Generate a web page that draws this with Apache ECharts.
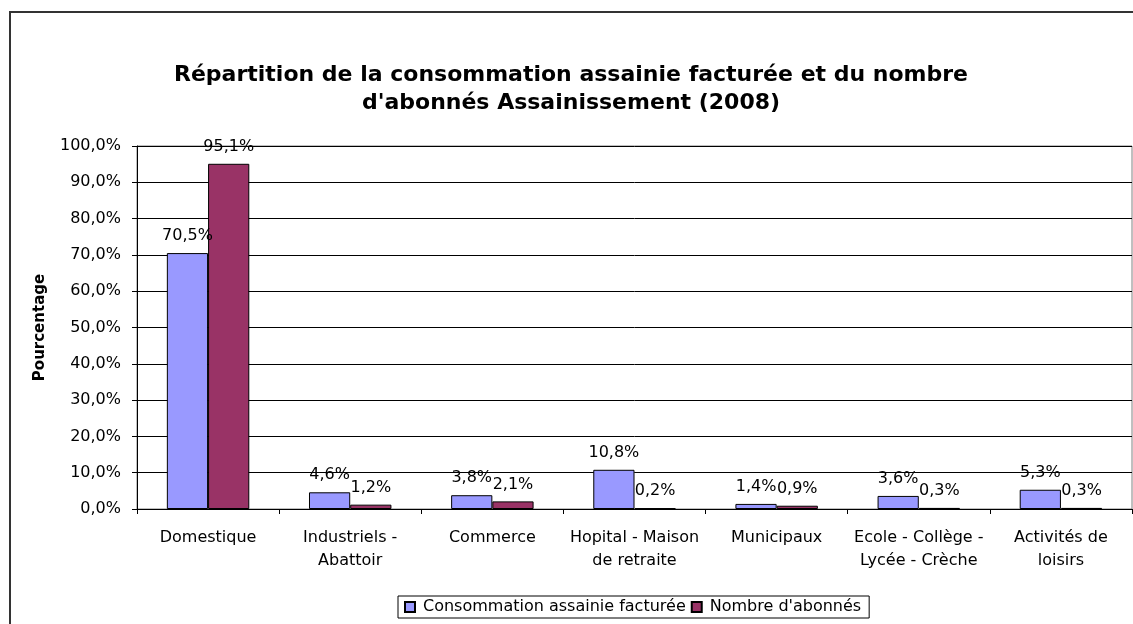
<!DOCTYPE html>
<html>
<head>
<meta charset="utf-8">
<script src="https://cdn.jsdelivr.net/npm/echarts@6/dist/echarts.min.js"></script>
<style>
  html, body { margin: 0; padding: 0; background: #fff; }
  #main { width: 1133px; height: 624px; }
</style>
</head>
<body>
<div id="main"></div>
<script>
var categories = ['Domestique', 'Industriels -\nAbattoir', 'Commerce', 'Hopital - Maison\nde retraite',
    'Municipaux', 'Ecole - Collège -\nLycée - Crèche', 'Activités de\nloisirs'];
var consommation = [70.5, 4.6, 3.8, 10.8, 1.4, 3.6, 5.3];
var abonnes = [95.1, 1.2, 2.1, 0.2, 0.9, 0.3, 0.3];

// format "70,5%"
function pct(v) {
    return Number(v).toFixed(1).replace('.', ',') + '%';
}

var font = 'DejaVu Sans, Liberation Sans, Arial, sans-serif';
var chart = echarts.init(document.getElementById('main'));

var option = {
    backgroundColor: '#fff',
    textStyle: { fontFamily: font },
    title: {
        text: "Répartition de la consommation assainie facturée et du nombre\nd'abonnés Assainissement (2008)",
        left: 566,
        top: 56,
        textAlign: 'center',
        textStyle: {
            fontSize: 22,
            fontWeight: 'bold',
            color: '#000',
            lineHeight: 28,
            fontFamily: font
        }
    },
    graphic: [{
        type: 'rect',
        shape: { x: 10, y: 12, width: 1300, height: 800 },
        style: { fill: 'none', stroke: '#333', lineWidth: 2 },
        silent: true
    }],
    legend: {
        left: 398,
        top: 596,
        itemWidth: 10,
        itemHeight: 10,
        itemGap: 5,
        padding: [3, 8, 3, 6],
        borderColor: '#000',
        borderWidth: 1,
        borderRadius: 0,
        icon: 'rect',
        textStyle: { fontSize: 16, color: '#000', padding: [0, 0, 0, 3] },
        data: ['Consommation assainie facturée', "Nombre d'abonnés"]
    },
    grid: {
        left: 137,
        right: 1,
        top: 146,
        bottom: 115,
        show: true,
        borderColor: '#808080',
        borderWidth: 1
    },
    xAxis: {
        type: 'category',
        data: categories,
        axisLine: { lineStyle: { color: '#000', width: 1 } },
        axisTick: { show: true, length: 5, inside: false, lineStyle: { color: '#000' } },
        axisLabel: {
            color: '#000',
            fontSize: 16,
            lineHeight: 23,
            margin: 17,
            interval: 0
        }
    },
    yAxis: {
        type: 'value',
        min: 0,
        max: 100,
        interval: 10,
        name: 'Pourcentage',
        nameLocation: 'middle',
        nameRotate: 90,
        nameGap: 89,
        nameTextStyle: { fontSize: 15, fontWeight: 'bold', color: '#000' },
        axisLine: { show: true, lineStyle: { color: '#000', width: 1 } },
        axisTick: { show: true, length: 5, lineStyle: { color: '#000' } },
        axisLabel: {
            color: '#000',
            fontSize: 16,
            margin: 16,
            formatter: pct
        },
        splitLine: { show: true, lineStyle: { color: '#000', width: 1 } }
    },
    series: [{
        name: 'Consommation assainie facturée',
        type: 'bar',
        data: consommation,
        barGap: '0%',
        barCategoryGap: '42%',
        itemStyle: { color: '#9999FF', borderColor: '#000', borderWidth: 1 },
        label: {
            show: true,
            position: 'top',
            distance: 9,
            fontSize: 16,
            color: '#000',
            formatter: function (p) { return pct(p.value); }
        }
    }, {
        name: "Nombre d'abonnés",
        type: 'bar',
        data: abonnes,
        itemStyle: { color: '#993366', borderColor: '#000', borderWidth: 1 },
        label: {
            show: true,
            position: 'top',
            distance: 9,
            fontSize: 16,
            color: '#000',
            formatter: function (p) { return pct(p.value); }
        }
    }]
};

chart.setOption(option);
</script>
</body>
</html>
